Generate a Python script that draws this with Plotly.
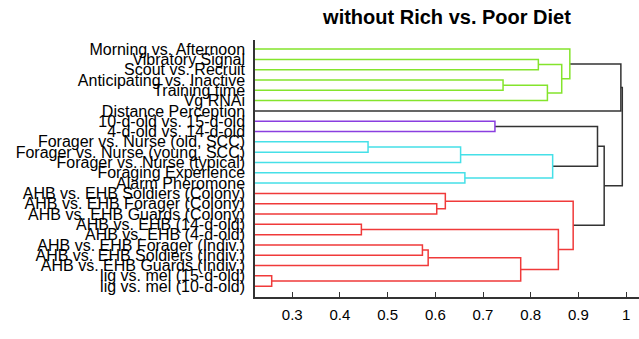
import plotly.graph_objects as go

# ---- data ----
leaf_labels = [
    "Morning vs. Afternoon",
    "Vibratory Signal",
    "Scout vs. Recruit",
    "Anticipating vs. Inactive",
    "Training time",
    "Vg RNAi",
    "Distance Perception",
    "10-d-old vs. 15-d-old",
    "4-d-old vs. 14-d-old",
    "Forager vs. Nurse (old, SCC)",
    "Forager vs. Nurse (young, SCC)",
    "Forager vs. Nurse (typical)",
    "Foraging Experience",
    "Alarm Pheromone",
    "AHB vs. EHB Soldiers (Colony)",
    "AHB vs. EHB Forager (Colony)",
    "AHB vs. EHB Guards (Colony)",
    "AHB vs. EHB (14-d-old)",
    "AHB vs. EHB (4-d-old)",
    "AHB vs. EHB Forager (Indiv.)",
    "AHB vs. EHB Soldiers (Indiv.)",
    "AHB vs. EHB Guards (Indiv.)",
    "lig vs. mel (15-d-old)",
    "lig vs. mel (10-d-old)",
]

# merges: node ids start at len(leaf_labels); (left child, right child)
merge_left = [1, 3, 25, 24, 0, 7, 9, 30, 12, 31, 15, 14, 17, 19, 37, 22, 38, 36, 35, 29, 43, 28, 45]
merge_right = [2, 4, 5, 26, 27, 8, 10, 11, 13, 32, 16, 34, 18, 20, 21, 23, 39, 40, 41, 33, 42, 6, 44]
merge_height = [0.816, 0.742, 0.835, 0.865, 0.882, 0.725, 0.459, 0.653, 0.662, 0.846,
                0.603, 0.621, 0.445, 0.573, 0.585, 0.257, 0.779, 0.858, 0.889,
                0.940, 0.954, 0.989, 0.992]
merge_group = ["green", "green", "green", "green", "green", "purple", "cyan", "cyan", "cyan", "cyan",
               "red", "red", "red", "red", "red", "red", "red", "red", "red",
               "black", "black", "black", "black"]

x_tick_vals = [0.3, 0.4, 0.5, 0.6, 0.7, 0.8, 0.9, 1.0]
x_tick_text = ["0.3", "0.4", "0.5", "0.6", "0.7", "0.8", "0.9", "1"]

title_text = "without Rich vs. Poor Diet"

# ---- styles ----
group_colors = {
    "green": "#84e42c",
    "purple": "#8a3ee0",
    "cyan": "#45e0e8",
    "red": "#f03a3a",
    "black": "#333333",
}
X_MIN, X_MAX = 0.222, 1.027
FONT = "Liberation Sans, Arial, Helvetica, sans-serif"

n = len(leaf_labels)
pos = {i: n - i for i in range(n)}          # leaf vertical positions (top leaf highest)
hgt = {i: X_MIN for i in range(n)}          # leaves start at axis

traces_xy = {}
for k, (a, b, h, g) in enumerate(zip(merge_left, merge_right, merge_height, merge_group)):
    node = n + k
    xs = [hgt[a], h, h, hgt[b], None]
    ys = [pos[a], pos[a], pos[b], pos[b], None]
    tx, ty = traces_xy.setdefault(g, ([], []))
    tx.extend(xs)
    ty.extend(ys)
    pos[node] = (pos[a] + pos[b]) / 2
    hgt[node] = h

fig = go.Figure()
for g in ["black", "green", "purple", "cyan", "red"]:
    xs, ys = traces_xy[g]
    fig.add_trace(go.Scatter(x=xs, y=ys, mode="lines",
                             line=dict(color=group_colors[g], width=1.5),
                             hoverinfo="skip", showlegend=False))

fig.update_layout(
    width=639, height=339,
    margin=dict(l=255, r=0, t=40, b=41.5),
    paper_bgcolor="white", plot_bgcolor="white",
    font=dict(family=FONT, color="black"),
    title=dict(text="<b>" + title_text + "</b>", x=0.5, xref="paper", xanchor="center",
               y=1 - 16.7 / 339, yref="container", yanchor="middle",
               font=dict(size=20, family=FONT, color="black")),
    showlegend=False,
)
fig.update_xaxes(range=[X_MIN, X_MAX], tickvals=x_tick_vals, ticktext=x_tick_text,
                 ticks="inside", ticklen=5, tickwidth=1, tickcolor="#333",
                 showline=True, linecolor="#333", linewidth=1.5,
                 showgrid=False, zeroline=False, ticklabelstandoff=3,
                 tickfont=dict(size=15, family=FONT, color="black"))
fig.update_yaxes(range=[-0.05, 24.88],
                 tickvals=[pos[i] for i in range(n)], ticktext=leaf_labels,
                 ticks="", showline=True, linecolor="#333", linewidth=1.5,
                 showgrid=False, zeroline=False, ticklabelstandoff=5,
                 tickfont=dict(size=16, family=FONT, color="black"))

fig.write_html("out.html")
